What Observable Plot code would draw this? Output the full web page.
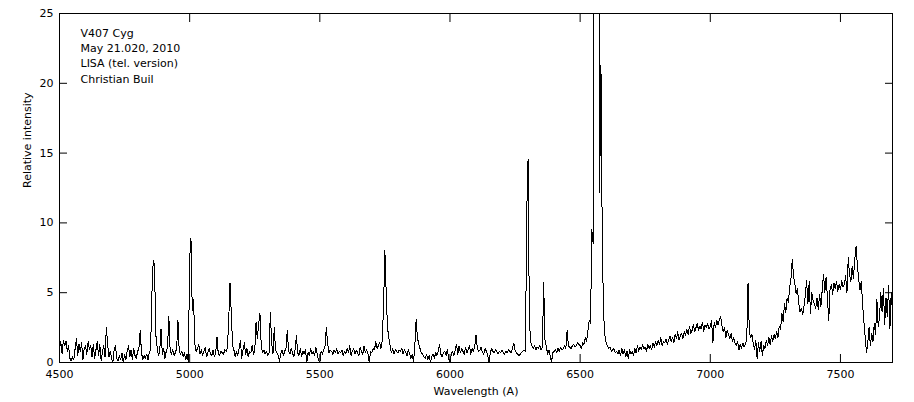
<!DOCTYPE html>
<html><head><meta charset="utf-8">
<script src="https://cdn.jsdelivr.net/npm/d3@7"></script>
<script src="https://cdn.jsdelivr.net/npm/@observablehq/plot@0.6"></script>
<style>
html,body{margin:0;padding:0;background:#fff;}
</style></head><body><div id="chart"></div>
<script>
const annotation = ["V407 Cyg", "May 21.020, 2010", "LISA (tel. version)", "Christian Buil"];
const xLabel = "Wavelength (A)";
const yLabel = "Relative intensity";
const xTicks = [4500, 5000, 5500, 6000, 6500, 7000, 7500];
const yTicks = [0, 5, 10, 15, 20, 25];
const step = 5; // sampling step in Angstrom

const band4500 = [1.0,1.5,0.6,1.6,1.2,1.5,0.8,1.2,0.3,0.1,
 0.4,0.2,1.0,1.7,0.5,1.3,0.8,1.4,0.2,1.0,
 1.2,0.6,1.5,0.9,1.2,0.4,1.3,0.3,0.9,1.5,
 0.5,1.3,0.1,0.8,1.2,0.4,2.5,1.3,0.4,0.8,
 0.3,0.0,0.9,1.2,0.3,0.1,0.5,0.2,0.7,0.0,
 0.6,0.2,0.8,1.2,0.4,0.9,0.2,1.0,0.5,0.3,
 0.8,1.0,2.3,0.7,0.2,0.5,0.3,0.6,0.2,0.7,
 0.9,4.9,7.3,7.0,2.0,1.1,0.5,0.8,2.4,0.6,
 1.0,0.3,0.8,1.1,3.3,0.9,0.6,0.9,0.5,0.7,
 1.0,3.0,0.8,0.6,0.8,0.4,0.7,0.2,0.6,0.0];
const band5000 = [7.4,8.9,3.7,4.5,1.3,0.8,1.0,1.3,0.6,0.9,
 0.5,0.8,1.1,0.4,0.7,1.0,0.6,0.5,0.9,0.4,
 0.7,1.85,0.6,0.5,0.8,0.7,0.6,0.9,0.8,1.0,
 3.0,5.7,3.5,1.2,0.9,0.4,0.8,0.5,1.0,1.6,
 0.3,0.9,1.4,0.6,1.0,0.4,0.8,0.7,1.2,0.6,
 0.8,2.9,1.7,2.8,3.5,1.2,0.7,0.9,0.6,0.8,
 0.5,0.7,3.6,1.4,0.6,2.5,0.9,0.7,0.5,0.1,
 0.6,0.9,0.5,0.8,1.0,2.3,0.8,0.6,1.0,0.7,
 0.4,0.9,1.9,0.7,0.5,1.0,0.4,0.8,0.6,0.9,
 0.0,0.7,0.5,1.0,0.6,0.8,0.5,1.1,0.6,0.2];
const band5500 = [0.0,0.8,0.6,0.9,1.2,2.5,1.4,0.7,0.9,0.8,
 0.6,0.9,0.7,1.0,0.6,0.8,0.7,0.9,0.5,0.8,
 0.6,1.0,0.7,1.2,0.5,0.8,1.0,0.6,0.9,0.7,
 0.5,1.1,0.8,0.6,1.2,0.7,0.9,0.6,0.0,0.8,
 0.7,1.0,0.9,1.5,1.0,1.2,1.4,1.0,1.6,4.2,
 8.0,5.0,2.5,1.8,1.2,0.7,1.0,0.6,0.9,0.8,
 0.7,0.9,0.8,1.0,0.6,0.9,0.7,0.5,0.9,0.6,
 0.3,0.6,0.0,1.2,3.1,1.8,1.3,1.0,0.7,0.6,
 0.4,0.3,0.6,0.2,0.5,0.0,0.4,0.6,0.3,0.7,
 0.5,0.8,1.3,0.6,0.4,0.7,0.8,0.5,0.9,0.3];
const band6000 = [0.0,0.6,0.8,0.5,0.9,1.3,0.6,1.2,0.7,1.0,
 0.8,0.6,1.1,0.7,0.9,1.2,0.6,1.0,0.8,1.1,
 2.0,1.0,0.8,0.9,1.1,0.7,0.6,1.0,0.8,0.5,
 0.0,0.7,1.0,0.8,0.7,0.9,0.8,0.6,0.8,0.7,
 0.9,0.7,0.6,0.8,0.7,0.9,0.8,0.7,1.0,1.4,
 0.9,0.7,0.6,0.5,0.6,0.7,0.8,0.9,0.8,10.8,
 14.6,3.0,1.5,1.2,1.0,1.2,0.9,1.1,1.0,1.2,
 0.9,1.1,5.7,1.6,1.2,0.6,0.9,0.5,0.0,0.7,
 0.8,0.9,0.7,1.0,0.8,1.1,0.9,1.0,1.2,1.0,
 2.3,1.2,1.1,1.0,1.2,1.3,1.1,1.2,1.4,1.3];
const band6500 = [1.2,1.0,1.4,1.3,1.8,1.5,2.3,3.0,2.8,9.5,
 8.5,40,40,40,40,12.2,21.3,8.8,3.5,2.0,
 1.4,1.2,1.0,1.1,0.8,0.9,1.0,0.7,0.8,0.6,
 0.9,0.5,1.0,0.6,0.9,0.4,0.8,0.3,0.9,0.6,
 0.8,0.5,1.0,0.7,1.2,0.8,1.1,0.9,1.3,1.0,
 1.1,0.8,1.3,1.0,1.2,0.9,1.4,1.1,1.5,1.2,
 1.6,1.3,1.8,1.2,1.5,1.4,1.7,1.3,1.6,1.9,
 1.5,1.8,1.4,2.0,1.7,2.2,1.6,1.9,2.1,1.7,
 2.2,1.9,2.4,2.0,2.6,2.1,2.3,2.7,2.2,2.5,
 2.8,2.3,2.6,2.4,2.9,2.2,2.7,2.5,2.8,2.4];
const band7000 = [2.6,3.0,1.4,2.9,2.5,3.0,2.7,3.1,3.3,2.6,
 2.2,2.5,1.8,2.3,2.0,1.7,2.1,1.5,1.8,1.4,
 1.2,1.5,0.9,1.3,1.0,1.4,1.1,1.3,1.6,5.7,
 2.2,1.8,2.0,1.4,0.9,1.6,0.3,1.4,0.8,1.5,
 0.5,1.2,1.0,1.6,1.2,1.8,1.3,1.9,1.5,2.0,
 1.7,2.2,1.8,2.6,2.4,3.5,2.9,4.2,3.6,4.6,
 4.3,5.4,6.0,7.4,6.2,5.6,4.9,5.3,4.2,3.6,
 3.9,3.4,4.0,4.8,5.9,4.2,5.8,3.5,5.0,4.4,
 4.2,3.9,4.6,3.8,4.9,4.0,5.2,6.3,5.0,6.1,
 4.7,3.0,5.2,5.6,4.9,5.7,5.3,5.8,5.1,5.6];
const band7500 = [5.2,5.9,5.4,5.6,6.2,5.0,7.5,6.3,5.8,6.9,
 6.0,7.4,8.3,7.0,6.0,5.2,5.8,4.2,3.0,1.8,
 0.7,1.4,2.5,1.2,2.1,1.5,2.8,2.0,4.5,2.6,
 3.2,5.0,3.6,5.3,2.7,4.6,3.3,5.5,2.4,5.0,
 3.6];

const bandStarts = [4500, 5000, 5500, 6000, 6500, 7000, 7500];
const bandValues = [band4500, band5000, band5500, band6000, band6500, band7000, band7500];
const spectrum = bandValues.flatMap((vals, b) =>
  vals.map((v, i) => ({wavelength: bandStarts[b] + i * step, intensity: v})));

const plain = d3.format("d");

const chart = Plot.plot({
  width: 914,
  height: 402,
  marginLeft: 59,
  marginRight: 22,
  marginTop: 13,
  marginBottom: 40,
  x: {domain: [4500, 7700]},
  y: {domain: [0, 25]},
  style: {fontFamily: "'DejaVu Sans', sans-serif", fontSize: "11px", background: "white", color: "black", overflow: "visible"},
  marks: [
    Plot.line(spectrum, {x: "wavelength", y: "intensity", stroke: "black", strokeWidth: 1, clip: true, shapeRendering: "crispEdges"}),
    Plot.frame({stroke: "black", shapeRendering: "crispEdges"}),
    Plot.axisX({ticks: xTicks, tickSize: -8, tickPadding: 16, tickFormat: plain, label: null}),
    Plot.axisX({anchor: "top", ticks: xTicks, tickSize: -8, tickFormat: () => "", label: null}),
    Plot.axisY({ticks: yTicks, tickSize: -8, tickPadding: 14, tickFormat: plain, label: null}),
    Plot.axisY({anchor: "right", ticks: yTicks, tickSize: -8, tickFormat: () => "", label: null}),
    Plot.text([annotation.join("\n")], {frameAnchor: "top-left", dx: 21, dy: 12.2, lineAnchor: "top", textAnchor: "start", lineHeight: 1.4, fill: "black"}),
    Plot.text([xLabel], {frameAnchor: "bottom", dy: 28.5, lineAnchor: "middle", fill: "black"}),
    Plot.text([yLabel], {frameAnchor: "left", dx: -32, rotate: -90, fill: "black"})
  ]
});
document.getElementById("chart").appendChild(chart);
</script>
</body></html>
